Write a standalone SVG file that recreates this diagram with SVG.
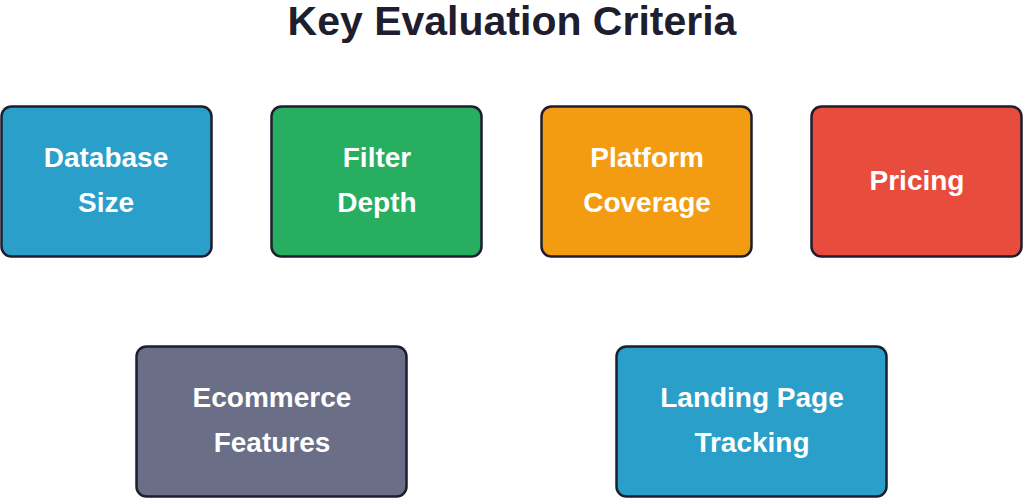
<svg xmlns="http://www.w3.org/2000/svg" width="1024" height="498" viewBox="0 0 1024 498">
<style>
.box{stroke:#1e1e2e;stroke-width:2.5}
.t{font-family:"Liberation Sans",Arial,sans-serif;font-weight:bold;font-size:28px;fill:#fff;text-anchor:middle;dominant-baseline:central}
.title{font-family:"Liberation Sans",Arial,sans-serif;font-weight:bold;font-size:41px;fill:#1e1e2e;text-anchor:middle}
</style>
<rect width="1024" height="498" fill="#fff"/>
<text class="title" x="512" y="35">Key Evaluation Criteria</text>
<g id="connectors"/>
<g id="n1"><rect class="box" x="1.5" y="106.5" width="210" height="150" rx="10" fill="#2a9fca"/><text class="t" x="106" y="157">Database</text><text class="t" x="106" y="202">Size</text></g>
<g id="n2"><rect class="box" x="271.5" y="106.5" width="210" height="150" rx="10" fill="#27ae60"/><text class="t" x="377" y="157">Filter</text><text class="t" x="377" y="202">Depth</text></g>
<g id="n3"><rect class="box" x="541.5" y="106.5" width="210" height="150" rx="10" fill="#f39c12"/><text class="t" x="647" y="157">Platform</text><text class="t" x="647" y="202">Coverage</text></g>
<g id="n4"><rect class="box" x="811.5" y="106.5" width="210" height="150" rx="10" fill="#e74c3c"/><text class="t" x="917" y="180">Pricing</text></g>
<g id="n5"><rect class="box" x="136.5" y="346.5" width="270" height="150" rx="10" fill="#6b6e87"/><text class="t" x="272" y="397">Ecommerce</text><text class="t" x="272" y="442">Features</text></g>
<g id="n6"><rect class="box" x="616.5" y="346.5" width="270" height="150" rx="10" fill="#2a9fca"/><text class="t" x="752" y="397">Landing Page</text><text class="t" x="752" y="442">Tracking</text></g>
</svg>
